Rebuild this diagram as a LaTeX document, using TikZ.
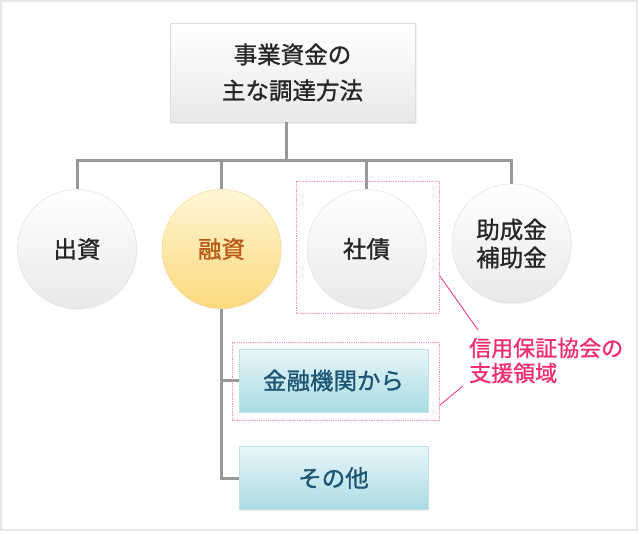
\documentclass[tikz,border=0pt]{standalone}
\usepackage{fontspec}
\setmainfont{Noto Sans CJK JP}
\newfontfamily\jpmedium{Noto Sans CJK JP}[FakeBold=1.2]
\usetikzlibrary{shadows}
\definecolor{lineGray}{HTML}{999999}
\definecolor{edgeGray}{HTML}{DCDCDC}
\definecolor{faceGray}{HTML}{E9E9E9}
\definecolor{edgeGold}{HTML}{F2D27E}
\definecolor{topGold}{HTML}{FFF7D6}
\definecolor{botGold}{HTML}{FCD97D}
\definecolor{textGold}{HTML}{B85A16}
\definecolor{edgeBlue}{HTML}{BDE3E8}
\definecolor{topBlue}{HTML}{E8F6F9}
\definecolor{botBlue}{HTML}{A9DBE2}
\definecolor{textBlue}{HTML}{1D5575}
\definecolor{notePink}{HTML}{F0306E}
\definecolor{boxPink}{HTML}{FF8FAB}

\begin{document}
\begin{tikzpicture}[x=1pt,y=-1pt,
      conn/.style={draw=lineGray,line width=3pt},
      titlebox/.style={rectangle,draw=edgeGray,top color=white,bottom color=faceGray,
        minimum width=245pt,minimum height=99pt,align=center,text=black!85,
        font=\fontsize{23.5}{36}\jpmedium,
        drop shadow={opacity=0.12,shadow xshift=1.5pt,shadow yshift=-1.5pt}},
      ball/.style={circle,draw=edgeGray,top color=white,bottom color=faceGray,
        minimum size=119pt,inner sep=0pt,align=center,text=black!85,
        font=\fontsize{23.5}{28}\jpmedium,
        drop shadow={opacity=0.08,shadow xshift=1pt,shadow yshift=-1.5pt}},
      goldball/.style={ball,draw=edgeGold,top color=topGold,bottom color=botGold,
        text=textGold},
      bluebox/.style={rectangle,draw=edgeBlue,top color=topBlue,bottom color=botBlue,
        minimum width=189pt,minimum height=63pt,text=textBlue,
        font=\fontsize{23.5}{28}\jpmedium,
        drop shadow={opacity=0.10,shadow xshift=1pt,shadow yshift=-1pt}},
      hilite/.style={rectangle,draw=boxPink,densely dotted,line width=0.8pt,inner sep=0pt},
      pinkline/.style={draw=notePink,line width=0.8pt}]
  \useasboundingbox (0,0) rectangle (640,533);
  \draw[edgeGray!70,line width=1.5pt] (1,1) rectangle (637,530);

  % tree
  \node[titlebox] (top) at (292.5,72.5) {事業資金の\\主な調達方法};
  \node[ball] (c1) at (77,249) {出資};
  \node[goldball] (c2) at (221.5,249) {融資};
  \node[ball] (c3) at (366.5,249) {社債};
  \node[ball] (c4) at (511.5,243.5) {助成金\\補助金};
  \node[bluebox] (b1) at (333.5,380.5) {金融機関から};
  \node[bluebox] (b2) at (333.5,478) {その他};

  \coordinate (hub) at (286,160);
  \draw[conn] (top.south -| hub) -- (hub);
  \draw[conn] (hub) -| (c1.north);
  \draw[conn] (hub) -| (c2.north);
  \draw[conn] (hub) -| (c3.north);
  \draw[conn] (hub) -| (c4.north);
  \draw[conn] (c2.south) |- (b1.west);
  \draw[conn] (c2.south) |- (b2.west);

  % guarantee area
  \node[hilite,minimum width=143pt,minimum height=132pt] (h1) at (367.5,247) {};
  \node[hilite,minimum width=207pt,minimum height=78pt] (h2) at (335.5,381) {};
  \node[anchor=west,align=left,text=notePink,inner sep=0pt,
    font=\fontsize{22}{25}\jpmedium] (note) at (469,360.5) {信用保証協会の\\支援領域};
  \coordinate (n1) at (478,330);
  \coordinate (n2) at (463,386);
  \draw[pinkline] ([yshift=38pt]h1.south east) -- (n1);
  \draw[pinkline] ([yshift=15pt]h2.south east) -- (n2);
\end{tikzpicture}
\end{document}
